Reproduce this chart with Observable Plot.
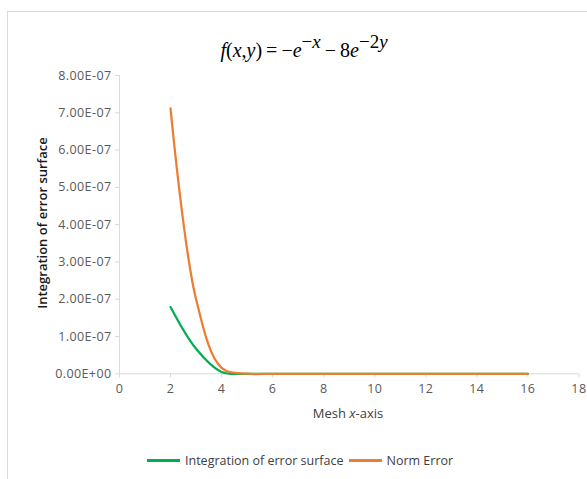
<!DOCTYPE html>
<html>
<head>
<meta charset="utf-8">
<script src="https://cdn.jsdelivr.net/npm/d3@7"></script>
<script src="https://cdn.jsdelivr.net/npm/@observablehq/plot@0.6"></script>
<style>
  html, body { margin: 0; padding: 0; background: #fff; }
  #wrap { position: relative; width: 587px; height: 479px; overflow: hidden; font-family: "Open Sans", sans-serif; }
  #frame { position: absolute; left: 7px; top: 11px; width: 700px; height: 600px; border: 1px solid #d9d9d9; box-sizing: border-box; }
  .abs { position: absolute; white-space: nowrap; }
  #title { left: 304px; top: 40px; line-height: 20px; transform: translateX(-50%); font-family: "Liberation Serif", serif; font-size: 20px; color: #000; }
  #title sup { font-size: 19px; vertical-align: baseline; position: relative; top: -9px; line-height: 0; }
  #ylab { left: 42px; top: 223px; transform: translate(-50%, -50%) rotate(-90deg); font-size: 13px; font-weight: 600; color: #1a1a1a; }
  #xlab { left: 348px; top: 413px; transform: translate(-50%, -50%); font-size: 13px; color: #404040; }
  #legend { left: 147px; top: 452px; font-size: 12.5px; color: #404040; display: flex; align-items: center; }
  .sw { display: inline-block; width: 33px; height: 2.5px; margin-right: 5px; }
  svg text { letter-spacing: 0.4px; }
</style>
</head>
<body>
<div id="wrap"></div>
<script>
// ---- data ----
const meshX = [2, 3, 4, 5, 6, 7, 8, 9, 10, 11, 12, 13, 14, 15, 16];
const integrationError = [1.79e-7, 0.67e-7, 0.05e-7, 0, 0, 0, 0, 0, 0, 0, 0, 0, 0, 0, 0];
const normError = [7.12e-7, 2.0e-7, 0.16e-7, 0.002e-7, 0, 0, 0, 0, 0, 0, 0, 0, 0, 0, 0];
const xTicks = [0, 2, 4, 6, 8, 10, 12, 14, 16, 18];
const yTicks = [0, 1e-7, 2e-7, 3e-7, 4e-7, 5e-7, 6e-7, 7e-7, 8e-7];
const seriesNames = ["Integration of error surface", "Norm Error"];
const seriesColors = ["#00b050", "#ed7d31"];

const greenData = meshX.map((x, i) => ({x, v: integrationError[i]}));
const orangeData = meshX.map((x, i) => ({x, v: normError[i]}));

const fmt = d => d.toExponential(2).toUpperCase().replace(/E([+-])(\d)$/, "E$10$2");

const plot = Plot.plot({
  width: 587,
  height: 479,
  marginLeft: 119,
  marginRight: 8.6,
  marginTop: 75,
  marginBottom: 105.7,
  style: {fontFamily: "Open Sans", fontSize: "12.5px", background: "transparent", color: "#595959", overflow: "visible"},
  x: {domain: [0, 18], label: null},
  y: {domain: [0, 8e-7], label: null},
  marks: [
    Plot.ruleY([0], {stroke: "#d9d9d9"}),
    Plot.ruleX([0], {stroke: "#d9d9d9"}),
    Plot.axisY({ticks: yTicks, tickFormat: fmt, tickSize: 4, tickPadding: 4, stroke: "#d9d9d9", fill: "#595959", label: null}),
    Plot.axisX({ticks: xTicks, tickFormat: d => String(d), tickSize: 4, tickPadding: 6, stroke: "#d9d9d9", fill: "#595959", label: null}),
    Plot.line(greenData, {x: "x", y: "v", stroke: seriesColors[0], strokeWidth: 2.25, curve: "catmull-rom"}),
    Plot.line(orangeData, {x: "x", y: "v", stroke: seriesColors[1], strokeWidth: 2.25, curve: "catmull-rom"})
  ]
});
plot.style.position = "absolute";
plot.style.left = "0px";
plot.style.top = "0px";

const wrap = document.getElementById("wrap");
wrap.appendChild(plot);

const frame = document.createElement("div");
frame.id = "frame";
wrap.appendChild(frame);

const title = document.createElement("div");
title.className = "abs";
title.id = "title";
title.innerHTML = '<i>f</i>(<i>x</i>,<i>y</i>)\u2009=\u2009\u2212<i>e</i><sup>\u2212<i>x</i></sup>\u2009\u2212\u20098<i>e</i><sup>\u22122<i>y</i></sup>';
wrap.appendChild(title);

const ylab = document.createElement("div");
ylab.className = "abs";
ylab.id = "ylab";
ylab.textContent = "Integration of error surface";
wrap.appendChild(ylab);

const xlab = document.createElement("div");
xlab.className = "abs";
xlab.id = "xlab";
xlab.innerHTML = "Mesh <i>x</i>-axis";
wrap.appendChild(xlab);

const legend = document.createElement("div");
legend.className = "abs";
legend.id = "legend";
seriesNames.forEach((name, i) => {
  const item = document.createElement("span");
  item.style.display = "inline-flex";
  item.style.alignItems = "center";
  item.style.marginRight = i === 0 ? "5px" : "0";
  const sw = document.createElement("span");
  sw.className = "sw";
  sw.style.background = seriesColors[i];
  item.appendChild(sw);
  const t = document.createElement("span");
  t.textContent = name;
  item.appendChild(t);
  legend.appendChild(item);
});
wrap.appendChild(legend);
</script>
</body>
</html>
